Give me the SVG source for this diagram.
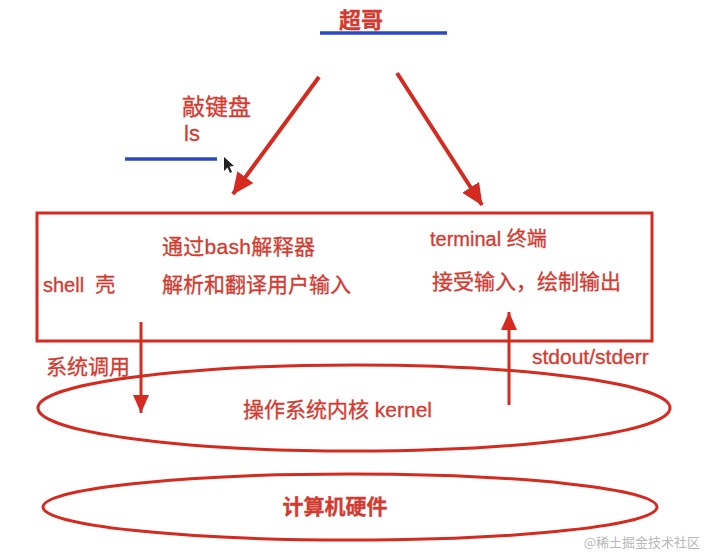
<svg xmlns="http://www.w3.org/2000/svg" width="707" height="558" viewBox="0 0 707 558">
<style>
.t{font-family:"Liberation Sans","Noto Sans CJK SC",sans-serif;fill:#d33a30;stroke:#d33a30;stroke-width:0.3;}
.big{font-size:23px;}
.mid{font-size:21px;}
.blue{stroke:#2a48c4;stroke-width:3.5;}
.red{stroke:#d42a20;fill:none;}
</style>
<defs>
<marker id="ah" markerUnits="userSpaceOnUse" markerWidth="22" markerHeight="20" refX="21" refY="10" orient="auto">
<path d="M0,0 L22,10 L0,20 z" fill="#d42a20"/>
</marker>
<marker id="ahs" markerUnits="userSpaceOnUse" markerWidth="18" markerHeight="16" refX="18" refY="8" orient="auto">
<path d="M0,0 L18,8 L0,16 z" fill="#d42a20"/>
</marker>
</defs>
<rect width="707" height="558" fill="#ffffff"/>

<g id="chaoge">
<text class="t" x="361" y="28" text-anchor="middle" font-size="22" font-weight="bold">超哥</text>
<line class="blue" x1="320" y1="33" x2="447" y2="33"/>
</g>

<g id="keyboard">
<text class="t big" x="182" y="115">敲键盘</text>
<text class="t" x="184" y="141" font-size="22">ls</text>
<line class="blue" x1="125" y1="159" x2="217" y2="159"/>
<path d="M224,157 L224,171 L227.5,167.5 L230,173 L232,172 L229.5,166.5 L234,166 Z" fill="#222"/>
</g>

<g id="shell-box">
<rect class="red" x="37" y="213" width="615" height="128" stroke-width="3"/>
<text class="t" x="43" y="292" font-size="20" xml:space="preserve">shell  壳</text>
<text class="t mid" x="162" y="254" letter-spacing="0.3">通过bash解释器</text>
<text class="t mid" x="162" y="292">解析和翻译用户输入</text>
<text class="t" x="430" y="246" font-size="20">terminal 终端</text>
<text class="t mid" x="432" y="289">接受输入，绘制输出</text>
</g>

<g id="kernel">
<ellipse class="red" cx="354" cy="408" rx="316" ry="43" stroke-width="3"/>
<text class="t mid" x="243" y="417">操作系统内核 kernel</text>
</g>

<g id="hardware">
<ellipse class="red" cx="350" cy="507" rx="307" ry="33" stroke-width="3" stroke="#c42a22"/>
<text class="t mid" x="335" y="514" text-anchor="middle" fill="#c8302a" font-weight="bold">计算机硬件</text>
</g>

<g id="connectors">
<line class="red" x1="319" y1="77" x2="233" y2="194" stroke-width="4" marker-end="url(#ah)"/>
<line class="red" x1="397" y1="73" x2="482" y2="205" stroke-width="4" marker-end="url(#ah)"/>
<line class="red" x1="141" y1="322" x2="141" y2="413" stroke-width="3" marker-end="url(#ahs)"/>
<line class="red" x1="509" y1="405" x2="509" y2="312" stroke-width="3" marker-end="url(#ahs)"/>
<text class="t mid" x="46" y="374">系统调用</text>
<text class="t mid" x="532" y="364">stdout/stderr</text>
</g>

<text x="700" y="547" text-anchor="end" font-family="Noto Sans CJK SC, sans-serif" font-size="13" fill="#b8b8b8">@稀土掘金技术社区</text>
</svg>
